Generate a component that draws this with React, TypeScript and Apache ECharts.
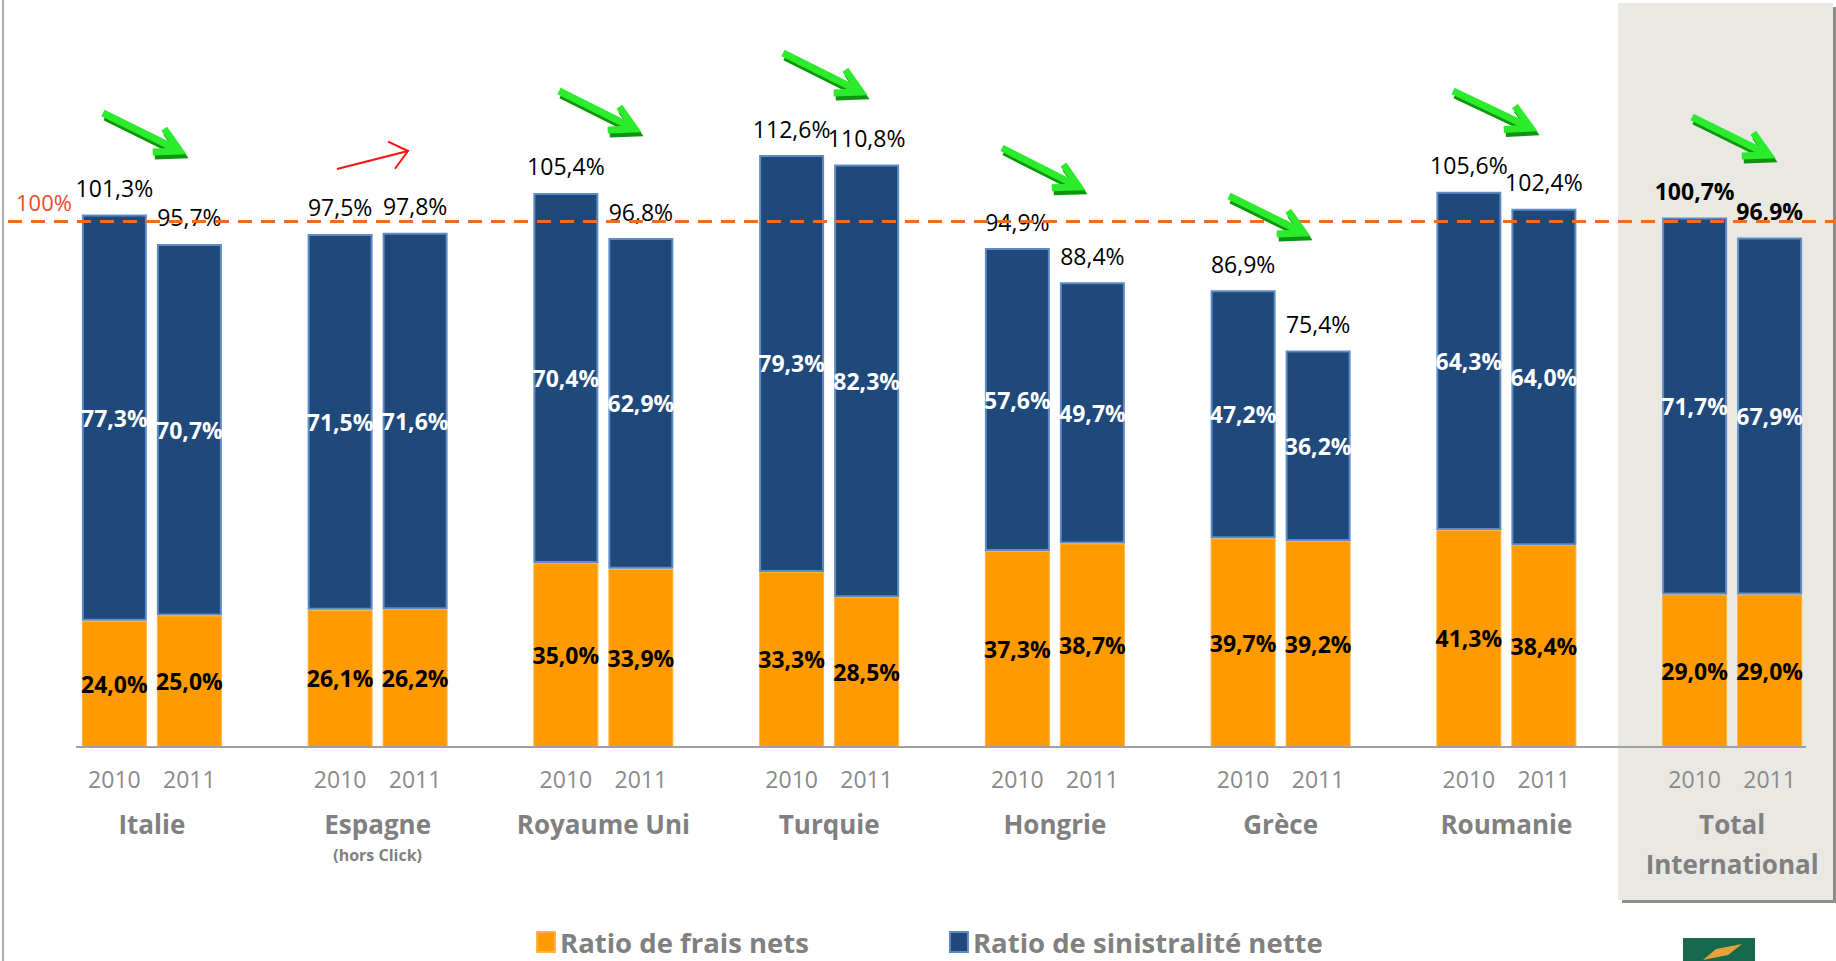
import React, { useEffect, useRef } from "react";
import * as echarts from "echarts";

const countries = ["Italie", "Espagne", "Royaume Uni", "Turquie", "Hongrie", "Grèce", "Roumanie", "Total International"];
const countryLines = [["Italie"], ["Espagne"], ["Royaume Uni"], ["Turquie"], ["Hongrie"], ["Grèce"], ["Roumanie"], ["Total", "International"]];
const subLabels = ["", "(hors Click)", "", "", "", "", "", ""];
const years = ["2010", "2011"];
const frais2010 = [24.0, 26.1, 35.0, 33.3, 37.3, 39.7, 41.3, 29.0];
const frais2011 = [25.0, 26.2, 33.9, 28.5, 38.7, 39.2, 38.4, 29.0];
const sin2010 = [77.3, 71.5, 70.4, 79.3, 57.6, 47.2, 64.3, 71.7];
const sin2011 = [70.7, 71.6, 62.9, 82.3, 49.7, 36.2, 64.0, 67.9];
const combined2010 = [101.3, 97.5, 105.4, 112.6, 94.9, 86.9, 105.6, 100.7];
const combined2011 = [95.7, 97.8, 96.8, 110.8, 88.4, 75.4, 102.4, 96.9];
const referenceLevel = 100;
const legendNames = ["Ratio de frais nets", "Ratio de sinistralité nette"];

// decorative trend arrows [startX, startY, tipX, tipY]
const greenArrows = [
  [103, 113, 180, 151],
  [559, 91, 635, 129],
  [783, 53, 861, 92],
  [1002, 148, 1079, 187],
  [1229, 196, 1304, 233],
  [1453, 91, 1531, 128],
  [1692, 117, 1769, 155],
];
const redArrows = [[337, 169, 408, 151]];

const FONT = "'Open Sans', 'Noto Sans', sans-serif";
const ORANGE = "#FF9A00";
const BLUE = "#20497B";

const fmt = (v: number) => v.toFixed(1).replace(".", ",") + "%";

function arrowPoints(a: number[], back: number, side: number) {
  const [x0, y0, x1, y1] = a;
  const dx = x1 - x0, dy = y1 - y0;
  const len = Math.hypot(dx, dy);
  const ux = dx / len, uy = dy / len;
  const nx = -uy, ny = ux;
  const b1 = [x1 - back * ux + side * nx, y1 - back * uy + side * ny];
  const b2 = [x1 - back * ux - side * nx, y1 - back * uy - side * ny];
  return { shaft: [[x0, y0], [x1, y1]], head: [b1, [x1, y1], b2] };
}

export default function App() {
  const ref = useRef<HTMLDivElement>(null);
  useEffect(() => {
    if (!ref.current) return;
    const chart = echarts.init(ref.current, null, { renderer: "svg" });

    const graphics: any[] = [
      { type: "rect", z: -10, shape: { x: 1622, y: 7, width: 220, height: 896 }, style: { fill: "#8E8E8A" } },
      { type: "rect", z: -9, shape: { x: 1618, y: 3, width: 215, height: 897 }, style: { fill: "#E9E8E3" } },
      { type: "line", z: -8, shape: { x1: 3, y1: 0, x2: 3, y2: 961 }, style: { stroke: "#A9ADB1", lineWidth: 2 } },
      { type: "line", z: 5, shape: { x1: 76, y1: 747, x2: 1806, y2: 747 }, style: { stroke: "#A0A0A0", lineWidth: 2 } },
      { type: "rect", z: 5, shape: { x: 1683, y: 938, width: 72, height: 30 }, style: { fill: "#17694E" } },
      { type: "polygon", z: 6, shape: { points: [[1703, 960], [1716, 949], [1742, 944], [1728, 955]] }, style: { fill: "#E8A13A" } },
    ];
    greenArrows.forEach((a) => {
      const p = arrowPoints(a, 24, 13);
      const off = (pts: number[][]) => pts.map(([x, y]) => [x + 2, y + 4]);
      const base = { lineWidth: 7, lineJoin: "miter", lineCap: "butt", fill: null };
      graphics.push({ type: "polyline", z: 10, shape: { points: off(p.shaft) }, style: { ...base, stroke: "#0C960C" } });
      graphics.push({ type: "polyline", z: 10, shape: { points: off(p.head) }, style: { ...base, stroke: "#0C960C" } });
      graphics.push({ type: "polyline", z: 11, shape: { points: p.shaft }, style: { ...base, stroke: "#2CEB2C" } });
      graphics.push({ type: "polyline", z: 11, shape: { points: p.head }, style: { ...base, stroke: "#2CEB2C" } });
    });
    redArrows.forEach((a) => {
      const p = arrowPoints(a, 17, 14);
      graphics.push({ type: "polyline", z: 11, shape: { points: p.shaft }, style: { stroke: "#FF1010", lineWidth: 2, fill: null } });
      graphics.push({ type: "polyline", z: 11, shape: { points: p.head }, style: { stroke: "#FF1010", lineWidth: 2, fill: null } });
    });

    const insideLabel = (color: string) => ({
      show: true,
      position: "inside",
      color,
      fontSize: 23,
      fontWeight: "bold",
      fontFamily: FONT,
      formatter: (p: any) => fmt(p.value),
    });
    const totalSeries = (stack: string, vals: number[]) => ({
      type: "bar",
      name: "total" + stack,
      stack,
      barWidth: 65,
      barGap: "15.4%",
      data: vals.map((v, i) => ({
        value: 0,
        label: { fontWeight: i === vals.length - 1 ? "bold" : "normal" },
      })),
      itemStyle: { color: "transparent" },
      label: {
        show: true,
        position: "top",
        distance: 15,
        color: "#000",
        fontSize: 23,
        fontFamily: FONT,
        formatter: (p: any) => fmt(vals[p.dataIndex]),
      },
      silent: true,
    });

    const option: any = {
      animation: false,
      textStyle: { fontFamily: FONT },
      grid: [
        { left: 39, width: 1806, top: 11, height: 736, outerBoundsMode: "none", containLabel: false },
        { left: 8, right: 0, top: 11, height: 736, outerBoundsMode: "none" },
      ],
      xAxis: [
        {
          type: "category",
          gridIndex: 0,
          data: countries,
          axisLine: { show: false },
          axisTick: { show: false },
          axisLabel: {
            interval: 0,
            margin: 11,
            formatter: (_v: string, idx: number) => {
              let s = `{y|${years[0]}}{y|${years[1]}}`;
              const lines = countryLines[idx];
              s += `\n{c|${lines[0]}}`;
              for (let k = 1; k < lines.length; k++) s += `\n{c2|${lines[k]}}`;
              if (subLabels[idx]) s += `\n{s|${subLabels[idx]}}`;
              return s;
            },
            rich: {
              y: { fontSize: 23, color: "#8A8A8A", width: 75, align: "center", lineHeight: 42, fontFamily: FONT },
              c: { fontSize: 26, fontWeight: "bold", color: "#808080", lineHeight: 48, fontFamily: FONT },
              c2: { fontSize: 26, fontWeight: "bold", color: "#808080", lineHeight: 32, fontFamily: FONT },
              s: { fontSize: 16, fontWeight: "bold", color: "#808080", lineHeight: 14, fontFamily: FONT },
            },
          },
        },
        { type: "value", gridIndex: 1, show: false, min: 0, max: 1 },
      ],
      yAxis: [
        { type: "value", gridIndex: 0, min: 0, max: 140, show: false },
        { type: "value", gridIndex: 1, min: 0, max: 140, show: false },
      ],
      legend: {
        data: legendNames,
        left: 531,
        top: 923,
        itemWidth: 18,
        itemHeight: 20,
        itemGap: 140,
        icon: "rect",
        textStyle: { fontSize: 27.5, fontWeight: "bold", color: "#808080", fontFamily: FONT, lineHeight: 28 },
      },
      graphic: graphics,
      series: [
        {
          type: "bar", name: legendNames[0], stack: "a", barWidth: 65, barGap: "15.4%",
          data: frais2010, itemStyle: { color: ORANGE, borderColor: "#FFB340", borderWidth: 1 },
          label: insideLabel("#000"),
        },
        {
          type: "bar", name: legendNames[1], stack: "a", barWidth: 65, barGap: "15.4%",
          data: sin2010, itemStyle: { color: BLUE, borderColor: "#5E8BC6", borderWidth: 2 },
          label: insideLabel("#FFF"),
        },
        totalSeries("a", combined2010),
        {
          type: "bar", name: legendNames[0], stack: "b", barWidth: 65, barGap: "15.4%",
          data: frais2011, itemStyle: { color: ORANGE, borderColor: "#FFB340", borderWidth: 1 },
          label: insideLabel("#000"),
        },
        {
          type: "bar", name: legendNames[1], stack: "b", barWidth: 65, barGap: "15.4%",
          data: sin2011, itemStyle: { color: BLUE, borderColor: "#5E8BC6", borderWidth: 2 },
          label: insideLabel("#FFF"),
        },
        totalSeries("b", combined2011),
        {
          type: "line",
          name: "ref",
          xAxisIndex: 1,
          yAxisIndex: 1,
          data: [],
          silent: true,
          markLine: {
            symbol: "none",
            silent: true,
            data: [{ yAxis: referenceLevel }],
            lineStyle: { type: [14, 9], color: "#F26B22", width: 3 },
            label: {
              show: true,
              position: "insideStartTop",
              formatter: referenceLevel + "%",
              color: "#F04A2B",
              fontSize: 22,
              fontFamily: FONT,
              distance: 8,
            },
          },
        },
      ],
    };
    chart.setOption(option);
    return () => chart.dispose();
  }, []);
  return (
    <div
      ref={ref}
      style={{ position: "fixed", left: 0, top: 0, width: 1836, height: 961, background: "#FFFFFF" }}
    />
  );
}
